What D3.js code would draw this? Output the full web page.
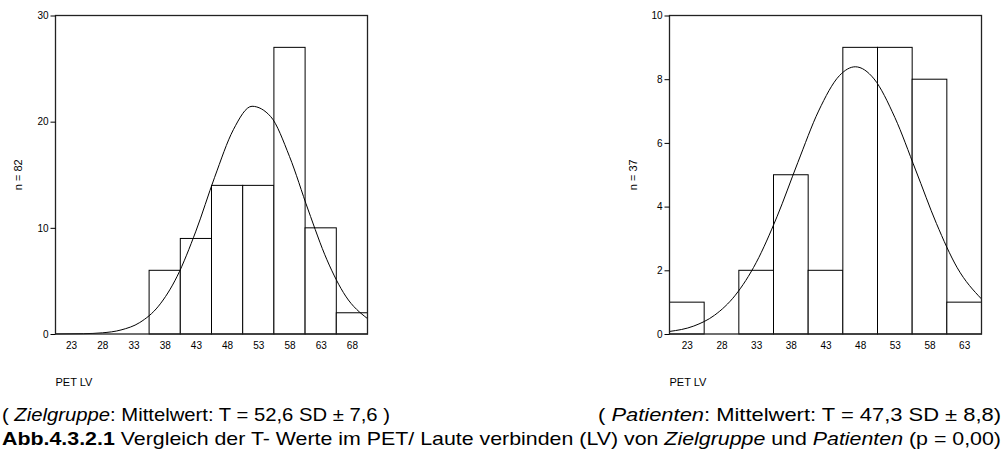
<!DOCTYPE html>
<html>
<head>
<meta charset="utf-8">
<script src="https://cdn.jsdelivr.net/npm/d3@7"></script>
<style>
  body { margin: 0; background: #fff; }
  svg { display: block; }
</style>
</head>
<body>
<div id="chart"></div>
<script>
// histogram bins (T-values, bin centers) and counts
var binsZiel = [23, 28, 33, 38, 43, 48, 53, 58, 63, 68];
var countsZiel = [0, 0, 0, 6, 9, 14, 14, 27, 10, 2];
var binsPat = [23, 28, 33, 38, 43, 48, 53, 58, 63];
var countsPat = [1, 0, 2, 5, 2, 9, 9, 8, 1];

// normal curve (x, n)
var curveZielX = [20.5, 25, 28, 31, 34, 37, 40, 43, 46, 49, 52, 55, 58, 61, 64, 67, 70.5];
var curveZielY = [0.003, 0.03, 0.11, 0.38, 1.08, 2.62, 5.44, 9.69, 14.76, 19.24, 21.45, 20.47, 16.72, 11.68, 6.99, 3.57, 1.45];
var curvePatX = [20.5, 24, 27, 30, 33, 36, 39, 42, 45, 47.3, 50, 53, 56, 59, 62, 65.5];
var curvePatY = [0.08, 0.25, 0.59, 1.22, 2.24, 3.68, 5.38, 7.0, 8.11, 8.39, 8.01, 6.8, 5.15, 3.47, 2.08, 1.1];

var yTicksZiel = [0, 10, 20, 30];
var yTicksPat = [0, 2, 4, 6, 8, 10];

var W = 1005, H = 462;
var binWidth = 5;

var svg = d3.select("#chart")
    .append("svg")
    .attr("width", W)
    .attr("height", H);

function drawHist(opt) {
    var x = d3.scaleLinear()
        .domain([opt.bins[0] - binWidth / 2, opt.bins[opt.bins.length - 1] + binWidth / 2])
        .range([opt.left, opt.right]);
    var y = d3.scaleLinear()
        .domain([0, opt.yMax])
        .range([opt.bottom, opt.top]);

    var g = svg.append("g");

    // bars
    var data = opt.bins.map(function(b, i) { return { bin: b, n: opt.counts[i] }; });
    g.selectAll("rect.bar")
        .data(data.filter(function(d) { return d.n > 0; }))
        .enter()
        .append("rect")
        .attr("class", "bar")
        .attr("x", function(d) { return x(d.bin - binWidth / 2); })
        .attr("y", function(d) { return y(d.n); })
        .attr("width", function(d) { return x(d.bin + binWidth / 2) - x(d.bin - binWidth / 2); })
        .attr("height", function(d) { return y(0) - y(d.n); })
        .attr("fill", "#fff")
        .attr("stroke", "#000")
        .attr("stroke-width", 1);

    // normal curve
    var pts = opt.cx.map(function(v, i) { return [v, opt.cy[i]]; });
    g.append("path")
        .datum(pts)
        .attr("fill", "none")
        .attr("stroke", "#000")
        .attr("stroke-width", 1)
        .attr("d", d3.line()
            .x(function(d) { return x(d[0]); })
            .y(function(d) { return y(d[1]); })
            .curve(d3.curveMonotoneX));

    // frame
    g.append("rect")
        .attr("x", opt.left)
        .attr("y", opt.top)
        .attr("width", opt.right - opt.left)
        .attr("height", opt.bottom - opt.top)
        .attr("fill", "none")
        .attr("stroke", "#222")
        .attr("stroke-width", 1.3);

    // y axis
    var yAxis = g.append("g")
        .attr("transform", "translate(" + opt.left + ",0)")
        .call(d3.axisLeft(y).tickValues(opt.yTicks).tickSize(5).tickPadding(2));
    yAxis.select(".domain").remove();
    yAxis.selectAll("text")
        .style("font-family", "Liberation Sans, Arial, sans-serif")
        .style("font-size", "10px")
        .attr("fill", "#000");

    // x axis (labels only)
    var xAxis = g.append("g")
        .attr("transform", "translate(0," + opt.bottom + ")")
        .call(d3.axisBottom(x).tickValues(opt.bins).tickSize(0).tickPadding(8));
    xAxis.select(".domain").remove();
    xAxis.selectAll("text")
        .style("font-family", "Liberation Sans, Arial, sans-serif")
        .style("font-size", "10px")
        .attr("fill", "#000");

    // axis titles
    g.append("text")
        .attr("transform", "translate(" + opt.yLabelX + "," + ((opt.top + opt.bottom) / 2) + ") rotate(-90)")
        .attr("text-anchor", "middle")
        .style("font-family", "Liberation Sans, Arial, sans-serif")
        .style("font-size", "11px")
        .text(opt.yLabel);

    g.append("text")
        .attr("x", opt.left)
        .attr("y", 386)
        .style("font-family", "Liberation Sans, Arial, sans-serif")
        .style("font-size", "11px")
        .text("PET LV");
}

drawHist({
    bins: binsZiel, counts: countsZiel, cx: curveZielX, cy: curveZielY,
    yMax: 30, yTicks: yTicksZiel, yLabel: "n = 82",
    left: 55.5, right: 367.5, top: 15.5, bottom: 334, yLabelX: 22
});

drawHist({
    bins: binsPat, counts: countsPat, cx: curvePatX, cy: curvePatY,
    yMax: 10, yTicks: yTicksPat, yLabel: "n = 37",
    left: 669.5, right: 981.5, top: 15.5, bottom: 334, yLabelX: 637
});

// caption (condensed to fit the page width)
var capFont = "'Liberation Sans Narrow', 'Arial Narrow', 'Liberation Sans', Arial, sans-serif";

var l1a = svg.append("text")
    .attr("x", 2).attr("y", 421)
    .attr("textLength", 388).attr("lengthAdjust", "spacingAndGlyphs")
    .style("font-family", capFont).style("font-size", "19px");
l1a.append("tspan").text("( ");
l1a.append("tspan").style("font-style", "italic").text("Zielgruppe");
l1a.append("tspan").text(": Mittelwert: T = 52,6 SD \u00b1 7,6 )");

var l1b = svg.append("text")
    .attr("x", 598).attr("y", 421)
    .attr("textLength", 403).attr("lengthAdjust", "spacingAndGlyphs")
    .style("font-family", capFont).style("font-size", "19px");
l1b.append("tspan").text("( ");
l1b.append("tspan").style("font-style", "italic").text("Patienten");
l1b.append("tspan").text(": Mittelwert: T = 47,3 SD \u00b1 8,8)");

var l2 = svg.append("text")
    .attr("x", 2).attr("y", 445)
    .attr("textLength", 999).attr("lengthAdjust", "spacingAndGlyphs")
    .style("font-family", capFont).style("font-size", "19px");
l2.append("tspan").style("font-weight", "bold").text("Abb.4.3.2.1");
l2.append("tspan").text(" Vergleich der T- Werte im PET/ Laute verbinden (LV) von ");
l2.append("tspan").style("font-style", "italic").text("Zielgruppe");
l2.append("tspan").text(" und ");
l2.append("tspan").style("font-style", "italic").text("Patienten");
l2.append("tspan").text(" (p = 0,00)");
</script>
</body>
</html>
